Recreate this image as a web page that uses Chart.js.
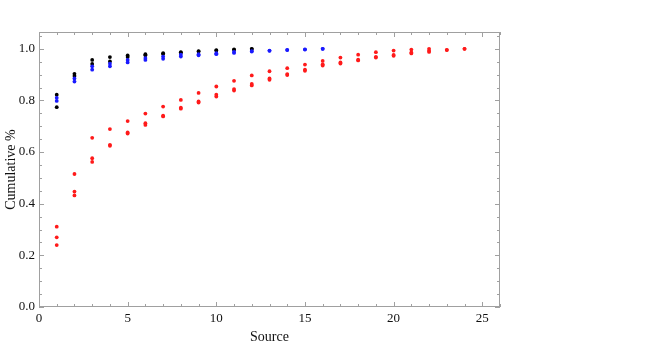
<!DOCTYPE html>
<html>
<head>
<meta charset="utf-8">
<script src="https://cdn.jsdelivr.net/npm/chart.js@4.4.1/dist/chart.umd.min.js"></script>
<style>
html,body{margin:0;padding:0;background:#fff;}
</style>
</head>
<body>
<canvas id="canvas" width="660" height="346"></canvas>
<script>
// source index on the x axis
const sources=[1,2,3,4,5,6,7,8,9,10,11,12,13,14,15,16,17,18,19,20,21,22,23,24];
// black series
const black1=[0.822,0.903,0.957,0.968,0.974,0.979,0.983,0.987,0.991,0.995,0.998,1.0];
const black2=[0.774,0.895,0.941,0.951,0.968,0.975,0.980,0.985,0.989,0.993,0.996,0.999];
// blue series
const blue1=[0.810,0.885,0.932,0.942,0.957,0.964,0.970,0.977,0.979,0.983,0.988,0.991,0.993,0.996,0.998,1.0];
const blue2=[0.798,0.873,0.919,0.932,0.947,0.957,0.961,0.970,0.975,0.979,0.984,0.989,0.992,0.995,0.997,1.0];
// red series
const red1=[0.311,0.515,0.655,0.689,0.720,0.749,0.776,0.802,0.829,0.854,0.876,0.897,0.913,0.925,0.939,0.953,0.966,0.977,0.987,0.993,0.997,1.0];
const red2=[0.270,0.447,0.576,0.628,0.676,0.712,0.741,0.772,0.796,0.822,0.844,0.864,0.885,0.902,0.919,0.940,0.947,0.958,0.969,0.976,0.986,0.992,0.996,1.0];
const red3=[0.240,0.432,0.562,0.624,0.672,0.705,0.738,0.768,0.792,0.815,0.838,0.858,0.880,0.898,0.915,0.935,0.943,0.955,0.966,0.973,0.982,0.988,0.995,1.0];
// tick labels
const xTicks=[0,5,10,15,20,25];
const yTicks=[0,0.2,0.4,0.6,0.8,1.0];

const serif="'Liberation Serif','DejaVu Serif',serif";
function pts(arr){
    return arr.map((v,i)=>({x:sources[i],y:v}));
}
function ds(arr,color,order){
    return {data:pts(arr),backgroundColor:color,borderColor:color,pointRadius:1.9,pointBorderWidth:0,pointHoverRadius:1.9,order:order};
}
// frame with inward ticks, like the original
const framePlugin={
    id:"frame",
    afterDraw(chart){
        const c=chart.ctx,a=chart.chartArea,xs=chart.scales.x,ys=chart.scales.y;
        c.save();
        c.strokeStyle="#a0a0a0";
        c.lineWidth=1;
        c.strokeRect(a.left+0.5,a.top+0.5,a.right-a.left-1,a.bottom-a.top-1);
        c.beginPath();
        for(let v=0;v<=26;v++){
            const p=Math.round(xs.getPixelForValue(v))+0.5;
            const len=(v%5===0)?5:3;
            c.moveTo(p,a.bottom);c.lineTo(p,a.bottom-len);
            c.moveTo(p,a.top);c.lineTo(p,a.top+len);
        }
        for(let k=0;k<=21;k++){
            const v=k*0.05;
            const p=Math.round(ys.getPixelForValue(v))+0.5;
            const len=(k%4===0)?5:3;
            c.moveTo(a.left,p);c.lineTo(a.left+len,p);
            c.moveTo(a.right,p);c.lineTo(a.right-len,p);
        }
        c.stroke();
        c.restore();
    }
};
new Chart(document.getElementById("canvas"),{
    type:"scatter",
    data:{
        datasets:[
            ds(blue1,"#1a1aff",1),
            ds(blue2,"#1a1aff",2),
            ds(black1,"#000000",3),
            ds(black2,"#000000",4),
            ds(red1,"#ff1a1a",5),
            ds(red2,"#ff1a1a",6),
            ds(red3,"#ff1a1a",7)
        ]
    },
    options:{
        responsive:false,
        animation:false,
        devicePixelRatio:1,
        layout:{padding:{top:32,right:160,left:0,bottom:0}},
        plugins:{legend:{display:false},tooltip:{enabled:false}},
        scales:{
            x:{
                type:"linear",min:0,max:26,
                grid:{display:false,drawTicks:false},border:{display:false},
                afterFit(s){s.height=39;},
                afterBuildTicks(s){s.ticks=xTicks.map(v=>({value:v}));},
                ticks:{padding:4,color:"#111",font:{family:serif,size:13},callback:v=>String(v)},
                title:{display:true,text:"Source",color:"#111",font:{family:serif,size:14},padding:{top:0,bottom:0}}
            },
            y:{
                type:"linear",min:0,max:1.065,
                grid:{display:false,drawTicks:false},border:{display:false},
                afterFit(s){s.width=39;},
                afterBuildTicks(s){s.ticks=yTicks.map(v=>({value:v}));},
                ticks:{padding:4,color:"#111",font:{family:serif,size:13},callback:v=>Number(v).toFixed(1)},
                title:{display:true,text:"Cumulative %",color:"#111",font:{family:serif,size:14},padding:{top:3,bottom:0}}
            }
        }
    },
    plugins:[framePlugin]
});
</script>
</body>
</html>
